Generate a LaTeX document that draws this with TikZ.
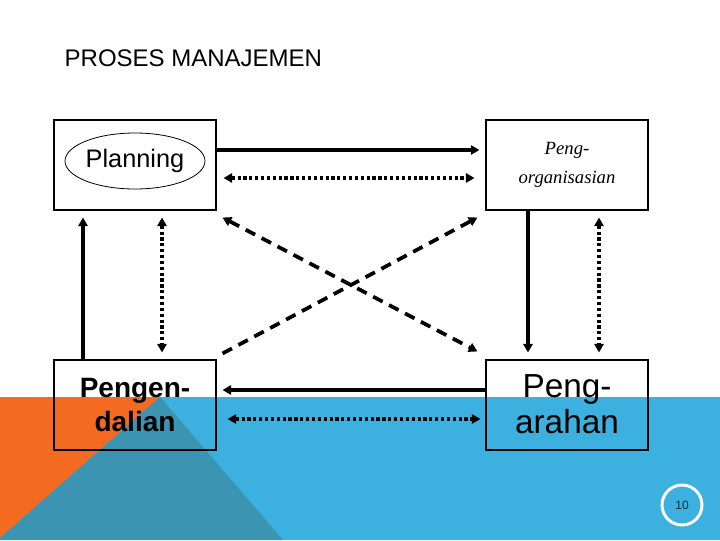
\documentclass[tikz,border=0pt]{standalone}
\usepackage{fontspec}
\setmainfont{Liberation Sans}
\newfontfamily\orgfont{Liberation Serif}
\usepackage{tikz}
\usetikzlibrary{arrows.meta,calc,shapes.geometric}
\definecolor{bgblue}{HTML}{3CB1DF}
\definecolor{bgteal}{HTML}{3A94B2}
\definecolor{bgorange}{HTML}{F36B21}
\definecolor{numtext}{HTML}{0E2A3A}
\tikzset{
  stagebox/.style={draw,line width=.8pt,minimum width=121.5pt,minimum height=67.5pt,inner sep=0pt,align=center},
  solidarr/.style={line width=2.5pt},
  dotarr/.style={line width=2.6pt,dash pattern=on 2.4pt off 2pt},
  dasharr/.style={line width=2.8pt,dash pattern=on 8pt off 5.5pt}
}

\begin{document}
\begin{tikzpicture}[x=.75pt,y=-.75pt,>={Triangle[length=6.5pt,width=7pt]}]
\useasboundingbox (0,0) rectangle (720,540);
\fill[white] (0,0) rectangle (720,540);
% background band
\fill[bgblue] (0,397) rectangle (720,540);
\fill[bgorange] (0,397)--(160,397)--(0,538)--cycle;
\fill[bgteal] (160,397)--(283,540)--(0,540)--(0,538)--cycle;
\node[anchor=west,font=\fontsize{18}{20}\selectfont] (title) at (60,58) {PROSES MANAJEMEN};
% the four stages
\node[stagebox] (planbox) at (135,165) {};
\node[ellipse,draw,line width=.6pt,inner sep=0pt,minimum width=105pt,minimum height=42pt,font=\fontsize{19}{21}\selectfont] (planning) at (135,161) {Planning};
\node[stagebox,font=\orgfont\itshape\fontsize{14}{22}\selectfont] (pengorg) at (567,165) {Peng-\\organisasian};
\node[stagebox,font=\bfseries\fontsize{21}{25}\selectfont] (pengend) at (135,405) {Pengen-\\dalian};
\node[stagebox,font=\fontsize{25}{27}\selectfont,text depth=1pt] (pengarah) at (567,405) {Peng-\\arahan};
% horizontal
\draw[solidarr,->] ($(planbox.east)+(0,-15)$) -- ($(pengorg.west)+(-6,-15)$);
\draw[dotarr,<->] ($(planbox.east)+(7,13)$) -- ($(pengorg.west)+(-11,13)$);
\draw[solidarr,->] ($(pengarah.west)+(0,-15)$) -- ($(pengend.east)+(6,-15)$);
\draw[dotarr,<->] ($(pengend.east)+(11,14)$) -- ($(pengarah.west)+(-5,14)$);
% vertical
\draw[solidarr,->] ($(pengend.north)+(-52,0)$) -- ($(planbox.south)+(-52,7)$);
\draw[dotarr,<->] ($(planbox.south)+(27,7)$) -- ($(pengend.north)+(27,-7)$);
\draw[solidarr,->] ($(pengorg.south)+(-39,0)$) -- ($(pengarah.north)+(-39,-7)$);
\draw[dotarr,<->] ($(pengorg.south)+(32,7)$) -- ($(pengarah.north)+(32,-7)$);
% diagonals
\draw[dasharr,<->] ($(planbox.south east)+(6,7)$) -- ($(pengarah.north west)+(-8,-8)$);
\draw[dasharr,->] ($(pengend.north east)+(6,-6)$) -- ($(pengorg.south west)+(-8,7)$);
% page number
\node[circle,draw=white,line width=2.2pt,minimum size=30pt,inner sep=0pt,text=numtext,font=\fontsize{9}{10}\selectfont] (pagenum) at (682,505) {10};
\end{tikzpicture}
\end{document}
